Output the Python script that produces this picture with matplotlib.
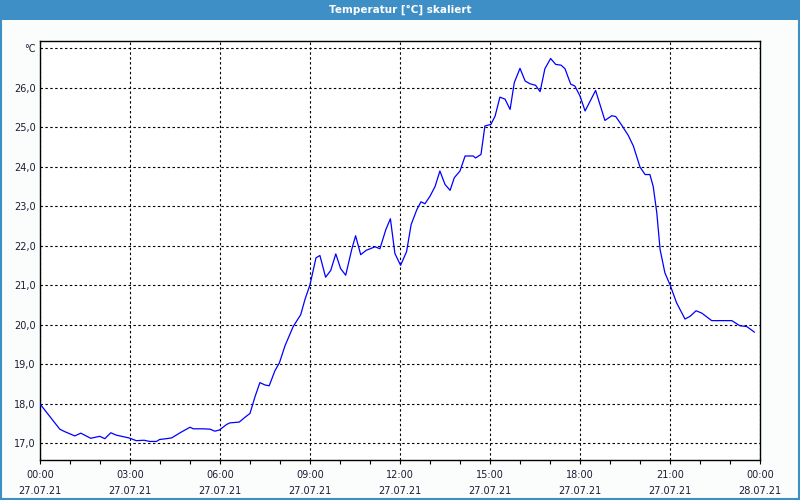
import matplotlib
matplotlib.use("Agg")
import matplotlib.pyplot as plt
from matplotlib.patches import Rectangle

# Messwerte: Stunden seit 27.07.21 00:00 und Temperatur in °C
hours = [0.0, 0.66, 0.82, 1.16, 1.36, 1.69, 1.99, 2.16, 2.36, 2.54, 2.96, 3.21, 3.47,
         3.66, 3.88, 3.99, 4.21, 4.39, 4.67, 5.0, 5.11, 5.44, 5.67, 5.83, 5.98, 6.22,
         6.33, 6.64, 6.83, 7.0, 7.17, 7.33, 7.5, 7.64, 7.83, 7.98, 8.17, 8.44, 8.69,
         8.83, 9.0, 9.2, 9.33, 9.52, 9.69, 9.86, 10.02, 10.19, 10.39, 10.52, 10.69,
         10.87, 11.17, 11.33, 11.53, 11.68, 11.83, 12.02, 12.22, 12.37, 12.56, 12.7,
         12.83, 13.0, 13.17, 13.33, 13.5, 13.67, 13.81, 14.0, 14.17, 14.44, 14.52,
         14.7, 14.83, 15.03, 15.17, 15.33, 15.5, 15.67, 15.81, 16.0, 16.17, 16.33,
         16.52, 16.67, 16.83, 17.02, 17.19, 17.37, 17.5, 17.69, 17.83, 18.0, 18.17,
         18.52, 18.83, 19.06, 19.19, 19.39, 19.61, 19.78, 20.0, 20.17, 20.33, 20.44,
         20.56, 20.67, 20.83, 21.0, 21.22, 21.5, 21.67, 21.87, 22.06, 22.39, 22.74,
         23.06, 23.33, 23.56, 23.81]
temp = [17.99, 17.35, 17.29, 17.18, 17.25, 17.12, 17.17, 17.11, 17.26, 17.2, 17.13,
        17.06, 17.07, 17.04, 17.04, 17.09, 17.11, 17.13, 17.26, 17.4, 17.36, 17.36,
        17.35, 17.3, 17.33, 17.47, 17.51, 17.53, 17.65, 17.75, 18.18, 18.53, 18.47,
        18.45, 18.83, 19.03, 19.47, 19.95, 20.25, 20.63, 21.01, 21.69, 21.75, 21.2,
        21.37, 21.79, 21.42, 21.25, 21.9, 22.25, 21.77, 21.88, 21.97, 21.92, 22.41,
        22.68, 21.8, 21.5, 21.85, 22.53, 22.91, 23.11, 23.06, 23.25, 23.5, 23.89,
        23.55, 23.4, 23.72, 23.89, 24.27, 24.27, 24.22, 24.31, 25.03, 25.07, 25.28,
        25.76, 25.71, 25.45, 26.13, 26.49, 26.17, 26.1, 26.06, 25.9, 26.48, 26.74,
        26.59, 26.57, 26.48, 26.09, 26.04, 25.79, 25.41, 25.93, 25.17, 25.29, 25.27,
        25.05, 24.79, 24.52, 23.99, 23.8, 23.8, 23.5, 22.83, 21.9, 21.31, 21.01,
        20.55, 20.14, 20.21, 20.35, 20.29, 20.1, 20.1, 20.1, 19.97, 19.95, 19.81]

xticks = [0, 3, 6, 9, 12, 15, 18, 21, 24]
xlabels = ["00:00\n27.07.21", "03:00\n27.07.21", "06:00\n27.07.21", "09:00\n27.07.21",
           "12:00\n27.07.21", "15:00\n27.07.21", "18:00\n27.07.21", "21:00\n27.07.21",
           "00:00\n28.07.21"]
yticks = [17, 18, 19, 20, 21, 22, 23, 24, 25, 26, 27]
ylabels = ["17,0", "18,0", "19,0", "20,0", "21,0", "22,0", "23,0", "24,0", "25,0",
           "26,0", "°C"]

txt = "#1c1c34"
fig = plt.figure(figsize=(8, 5), dpi=100, facecolor="#fbfdfd")
# Titelleiste
fig.patches.append(Rectangle((0, 0.96), 1, 0.04, transform=fig.transFigure,
                             facecolor="#3d8fc6", edgecolor="none", zorder=0))
fig.patches.append(Rectangle((0.001, 0.002), 0.998, 0.997, transform=fig.transFigure,
                             facecolor="none", edgecolor="#3d8fc6", lw=1.5, zorder=5))
fig.text(0.5, 0.98, "Temperatur [°C] skaliert", color="white", fontsize=7.5,
         fontweight="bold", ha="center", va="center")

ax = fig.add_axes([0.05, 0.08, 0.90, 0.8386])
ax.set_facecolor("white")
ax.plot(hours, temp, color="#0000ff", lw=0.9, zorder=3)

ax.set_xlim(0, 24)
ax.set_ylim(16.57, 27.19)
ax.set_xticks(xticks)
ax.set_xticklabels(xlabels, fontsize=7, color=txt, linespacing=1.75)
ax.set_xticks(range(0, 25), minor=True)
ax.set_yticks(yticks)
ax.set_yticklabels(ylabels, fontsize=7, color=txt)
ax.tick_params(axis="x", which="both", length=3, width=0.8, direction="out", pad=4)
ax.tick_params(axis="y", length=0, pad=3)
ax.grid(True, which="major", color="black", ls=(0, (2.2, 2.2)), lw=0.8)
for s in ax.spines.values():
    s.set_linewidth(1.0)

fig.savefig("out.png", dpi=100, facecolor=fig.get_facecolor())
